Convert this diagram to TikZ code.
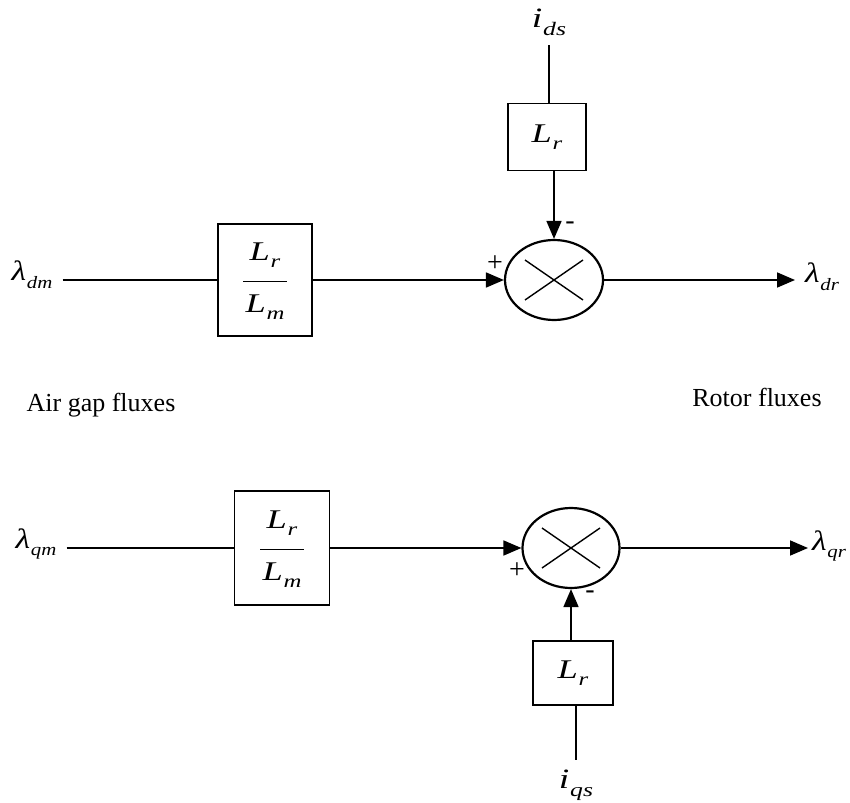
\documentclass[tikz,border=0pt]{standalone}
\usepackage{fontspec}
\usepackage{graphicx}
\setmainfont{Liberation Serif}
\usetikzlibrary{arrows.meta,shapes.geometric}
% italic symbol with a lowered italic subscript, set a little wide
\newcommand{\sbs}[2]{\scalebox{1.35}[1]{\textit{#1}\kern0.02em\raisebox{-0.28em}{\scalebox{0.68}{\textit{#2}}}}}
% flux symbol with its subscript
\newcommand{\flx}[1]{\scalebox{1.2}[1]{\textit{λ}\kern0.02em\raisebox{-0.28em}{\scalebox{0.62}{\textit{#1}}}}}
% ratio of two such symbols
\newcommand{\ratio}[2]{\begin{tabular}{@{}c@{}}#1\\[-2pt]\rule[6pt]{1.6em}{1.5pt}\\[-6pt]#2\end{tabular}}
\begin{document}
\begin{tikzpicture}[x=1pt,y=-1pt,
  wire/.style={line width=1.7pt},
  sig/.style={wire,-{Triangle[length=18pt,width=15pt]}},
  blk/.style={draw,line width=1.8pt,rectangle,inner sep=0pt,font=\fontsize{27}{30}\selectfont},
  summer/.style={draw,line width=2.2pt,ellipse,inner sep=0pt,
    path picture={\draw[line width=1.4pt]
      (path picture bounding box.center) ++(-29,-20) -- ++(58,40)
      (path picture bounding box.center) ++(-29,20) -- ++(58,-40);}},
  var/.style={inner sep=0pt,font=\fontsize{28}{30}\selectfont},
  signmark/.style={inner sep=0pt,font=\fontsize{28}{30}\selectfont},
  caption/.style={inner sep=0pt,font=\fontsize{26}{30}\selectfont}]
\useasboundingbox (0,0) rectangle (850,802);

% d-axis: air gap flux to rotor flux
\node[var] (lamdm) at (32,275) {\flx{dm}};
\node[blk,minimum width=94pt,minimum height=112pt] (F1) at (265,280)
  {\ratio{\sbs{L}{r}}{\sbs{L}{m}}};
\node[summer,minimum width=98pt,minimum height=80pt] (sum1) at (554,280) {};
\node[var,anchor=west] (lamdr) at (805,277) {\flx{dr}};
\node[var] (ids) at (549,22) {\sbs{i}{ds}};
\node[blk,minimum width=78pt,minimum height=67pt] (Lr1) at (547,137)
  {\sbs{L}{r}};

\draw[wire] (F1.west -| lamdm.east) ++(10,0) -- (F1.west);
\draw[sig] (F1) -- (sum1);
\draw[sig] (sum1.east) -- ([xshift=-10pt]sum1 -| lamdr.west);
\draw[wire] ([yshift=-10pt]ids.south) -- (ids.south |- Lr1.north);
\draw[sig] (Lr1.south -| sum1.north) -- (sum1.north);
\node[signmark] (p1) at (495,264) {+};
\node[signmark] (m1) at (570,226) {-};

% q-axis: air gap flux to rotor flux
\node[var] (lamqm) at (36,544) {\flx{qm}};
\node[blk,minimum width=95pt,minimum height=114pt] (F2) at (282,548)
  {\ratio{\sbs{L}{r}}{\sbs{L}{m}}};
\node[summer,minimum width=97pt,minimum height=80pt] (sum2) at (571,548) {};
\node[var,anchor=west] (lamqr) at (812,546) {\flx{qr}};
\node[var] (iqs) at (576,785) {\sbs{i}{qs}};
\node[blk,minimum width=80pt,minimum height=64pt] (Lr2) at (573,673)
  {\sbs{L}{r}};

\draw[wire] (F2.west -| lamqm.east) ++(10,0) -- (F2.west);
\draw[sig] (F2) -- (sum2);
\draw[sig] (sum2.east) -- ([xshift=-4pt]sum2 -| lamqr.west);
\draw[wire] ([yshift=10pt]iqs.north) -- (iqs.north |- Lr2.south);
\draw[sig] (Lr2.north -| sum2.south) -- (sum2.south);
\node[signmark] (p2) at (517,571) {+};
\node[signmark] (m2) at (590,595) {-};

% group captions
\node[caption] (air) at (101,405) {Air gap fluxes};
\node[caption] (rotor) at (757,397) {Rotor fluxes};
\end{tikzpicture}
\end{document}
